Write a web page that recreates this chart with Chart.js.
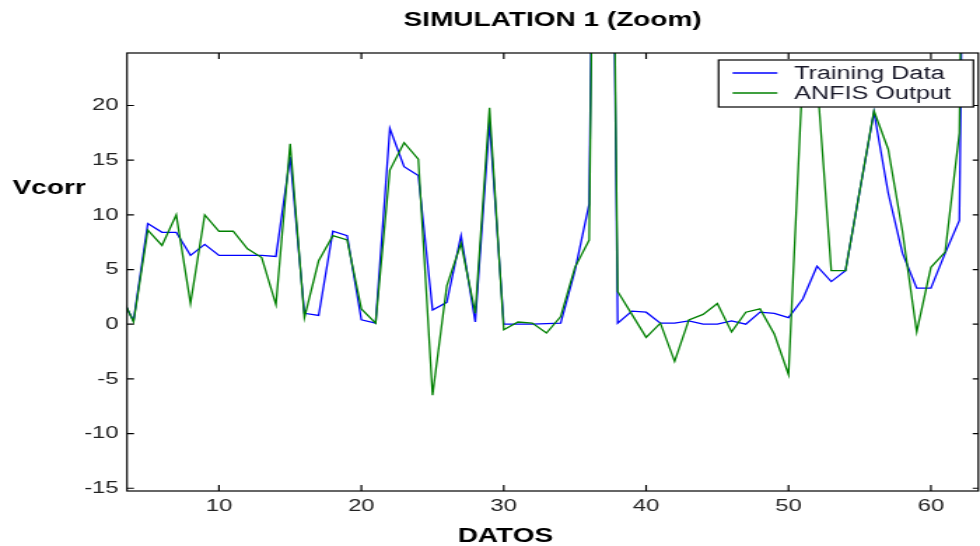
<!DOCTYPE html>
<html>
<head>
<meta charset="utf-8">
<title>SIMULATION 1 (Zoom)</title>
<script src="https://cdn.jsdelivr.net/npm/chart.js@4.4.1/dist/chart.umd.min.js"></script>
<style>
  html, body { margin: 0; padding: 0; background: #fff; }
</style>
</head>
<body>
<!-- the original figure is stretched sideways, so the canvas is drawn narrow and widened by css -->
<canvas id="chart" width="700" height="546" style="display:block;width:980px;height:546px"></canvas>
<script>
// sample number (DATOS)
const datos = [3, 4, 5, 6, 7, 8, 9, 10, 11, 12,
  13, 14, 15, 16, 17, 18, 19, 20, 21, 22,
  23, 24, 25, 26, 27, 28, 29, 30, 31, 32,
  33, 34, 35, 36, 37, 38, 39, 40, 41, 42,
  43, 44, 45, 46, 47, 48, 49, 50, 51, 52,
  53, 54, 55, 56, 57, 58, 59, 60, 61, 62, 63];

// Vcorr, training set
const trainingData = [2.8, 0.3, 9.2, 8.4, 8.4, 6.3, 7.3, 6.3, 6.3, 6.3,
  6.3, 6.2, 15.3, 1.0, 0.8, 8.5, 8.1, 0.4, 0.1, 17.9,
  14.4, 13.6, 1.3, 2.0, 8.1, 0.2, 18.5, 0.0, 0.0, 0.0,
  0.05, 0.1, 4.9, 11.0, 120, 0.1, 1.2, 1.1, 0.1, 0.1,
  0.3, 0.0, 0.0, 0.3, 0.0, 1.1, 1.0, 0.6, 2.3, 5.3,
  3.9, 4.9, 12.2, 19.4, 12.0, 6.5, 3.3, 3.3, 6.5, 9.5, 120];

// Vcorr, ANFIS output
const anfisOutput = [3.0, 0.2, 8.6, 7.2, 10.0, 1.9, 10.0, 8.5, 8.5, 6.9,
  6.1, 1.8, 16.5, 0.6, 5.8, 8.1, 7.7, 1.4, 0.1, 14.1,
  16.6, 15.1, -6.5, 3.5, 7.4, 1.0, 19.8, -0.5, 0.2, 0.1,
  -0.8, 0.7, 5.2, 7.7, 120, 3.0, 0.9, -1.2, 0.1, -3.4,
  0.4, 0.9, 1.9, -0.7, 1.1, 1.4, -0.9, -4.6, 23.0, 22.5,
  4.9, 4.9, 12.2, 19.5, 16.0, 8.5, -0.7, 5.2, 6.6, 17.5, 120];

const xTicks = [10, 20, 30, 40, 50, 60];
const yTicks = [-15, -10, -5, 0, 5, 10, 15, 20];
const seriesNames = ['Training Data', 'ANFIS Output'];
const seriesColors = ['#0000ff', '#008000'];
const chartTitle = 'SIMULATION 1 (Zoom)';
const xAxisLabel = 'DATOS';
const yAxisLabel = 'Vcorr';

const FONT = "'Liberation Sans', Arial, Helvetica, sans-serif";

// matlab style box: frame, inward ticks on all four sides, legend inside the axes
const matlabBox = {
  id: 'matlabBox',
  afterDatasetsDraw(chart) {
    const { ctx, chartArea: a, scales: { x, y } } = chart;
    ctx.save();
    ctx.strokeStyle = '#000';
    ctx.lineWidth = 1.2;
    ctx.strokeRect(a.left, a.top, a.right - a.left, a.bottom - a.top);
    ctx.beginPath();
    x.ticks.forEach(t => {
      const px = x.getPixelForValue(t.value);
      ctx.moveTo(px, a.bottom); ctx.lineTo(px, a.bottom - 6);
      ctx.moveTo(px, a.top); ctx.lineTo(px, a.top + 6);
    });
    y.ticks.forEach(t => {
      const py = y.getPixelForValue(t.value);
      ctx.moveTo(a.left, py); ctx.lineTo(a.left + 5, py);
      ctx.moveTo(a.right, py); ctx.lineTo(a.right - 4, py);
    });
    ctx.stroke();

    // legend
    const sets = chart.data.datasets;
    ctx.font = `18px ${FONT}`;
    const textW = Math.max(...sets.map(d => ctx.measureText(d.label).width));
    const boxW = 10 + 32 + 12 + textW + 16;
    const boxH = 47;
    const bx = a.right - 3.5 - boxW;
    const by = a.top + 7;
    ctx.fillStyle = '#fff';
    ctx.fillRect(bx, by, boxW, boxH);
    ctx.strokeStyle = '#000';
    ctx.lineWidth = 1.2;
    ctx.strokeRect(bx, by, boxW, boxH);
    ctx.textAlign = 'left';
    ctx.textBaseline = 'middle';
    sets.forEach((d, i) => {
      const ly = by + 13 + i * 20;
      ctx.strokeStyle = d.borderColor;
      ctx.lineWidth = 1.3;
      ctx.beginPath(); ctx.moveTo(bx + 10, ly); ctx.lineTo(bx + 42, ly); ctx.stroke();
      ctx.fillStyle = '#1a1a2a';
      ctx.fillText(d.label, bx + 54, ly + 1);
    });

    // axis labels (Vcorr stays horizontal, DATOS sits left of centre like the original)
    ctx.font = `bold 20px ${FONT}`;
    ctx.fillStyle = '#000';
    ctx.textAlign = 'left';
    ctx.fillText(yAxisLabel, 9, 188);
    ctx.textAlign = 'center';
    ctx.fillText(xAxisLabel, 361, 536);
    ctx.restore();
  }
};

const toPoints = ys => datos.map((x, i) => ({ x, y: ys[i] }));

new Chart(document.getElementById('chart'), {
  type: 'line',
  data: {
    datasets: [
      { label: seriesNames[0], data: toPoints(trainingData), borderColor: seriesColors[0], order: 1 },
      { label: seriesNames[1], data: toPoints(anfisOutput), borderColor: seriesColors[1], order: 0 }
    ]
  },
  options: {
    responsive: false,
    devicePixelRatio: 1,
    animation: false,
    events: [],
    layout: { padding: { left: 0, right: 1.2, top: 0, bottom: 0 } },
    elements: {
      line: { borderWidth: 1.3, tension: 0, fill: false },
      point: { radius: 0 }
    },
    plugins: {
      legend: { display: false },
      tooltip: { enabled: false },
      title: {
        display: true, text: chartTitle, fullSize: false, color: '#000',
        font: { family: FONT, size: 20, weight: 'bold' },
        padding: { top: 8, bottom: 21 }
      }
    },
    scales: {
      x: {
        type: 'linear', min: 3.54, max: 63.33,
        afterBuildTicks: s => { s.ticks = xTicks.map(v => ({ value: v })); },
        afterFit: s => { s.height = 55; },
        grid: { display: false, drawTicks: false },
        border: { display: false },
        ticks: { font: { family: FONT, size: 17 }, color: '#222', padding: 5, maxRotation: 0, autoSkip: false }
      },
      y: {
        min: -15.25, max: 24.8,
        afterBuildTicks: s => { s.ticks = yTicks.map(v => ({ value: v })); },
        afterFit: s => { s.width = 90.7; },
        grid: { display: false, drawTicks: false },
        border: { display: false },
        ticks: { font: { family: FONT, size: 17 }, color: '#222', padding: 6, autoSkip: false }
      }
    }
  },
  plugins: [matlabBox]
});
</script>
</body>
</html>
